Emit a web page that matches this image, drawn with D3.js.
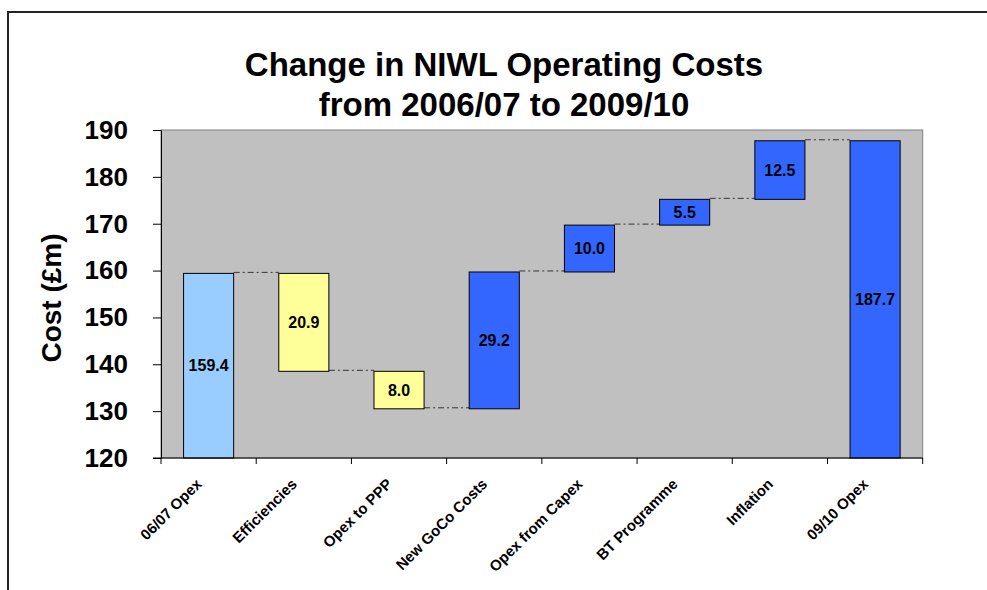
<!DOCTYPE html>
<html>
<head>
<meta charset="utf-8">
<script src="https://cdn.jsdelivr.net/npm/d3@7"></script>
<style>
  body { margin: 0; background: #fff; }
  text { font-family: Arial, "Liberation Sans", sans-serif; font-weight: bold; }
</style>
</head>
<body>
<div id="frame"></div>
<script>
// data
const categories = ["06/07 Opex", "Efficiencies", "Opex to PPP", "New GoCo Costs",
                    "Opex from Capex", "BT Programme", "Inflation", "09/10 Opex"];
const changes = [159.4, -20.9, -8.0, 29.2, 10.0, 5.5, 12.5, 187.7];
const kinds = ["total", "decrease", "decrease", "increase", "increase", "increase", "increase", "total"];
const yTicks = [120, 130, 140, 150, 160, 170, 180, 190];

const width = 987;
const height = 590;
const plotLeft = 161, plotRight = 922.7, plotTop = 130, plotBottom = 458;

let svg = d3.select("#frame")
        .append("svg")
        .attr("width", width)
        .attr("height", height);

// outer chart border (right and bottom fall outside the picture)
svg.append("rect")
        .attr("x", 8)
        .attr("y", 12)
        .attr("width", 1000)
        .attr("height", 620)
        .attr("fill", "none")
        .attr("stroke", "#222")
        .attr("stroke-width", 2);

// work out where each bar starts and ends
let running = 0;
let steps = changes.map((v, i) => {
    let lo, hi;
    if (kinds[i] == "total") {
        lo = 120; hi = v; running = v;
    } else {
        let next = running + v;
        lo = Math.min(running, next);
        hi = Math.max(running, next);
        running = next;
    }
    return {cat: categories[i], value: v, kind: kinds[i], lo: lo, hi: hi, level: running};
});

let x = d3.scaleBand()
        .domain(categories)
        .range([plotLeft, plotRight])
        .paddingInner(0.474)
        .paddingOuter(0.237);

let y = d3.scaleLinear()
        .domain([120, 190])
        .range([plotBottom, plotTop]);

let color = d3.scaleOrdinal()
        .domain(["total", "decrease", "increase"])
        .range(["#99CCFF", "#FFFF99", "#3366FF"]);

// plot area
svg.append("rect")
        .attr("x", plotLeft)
        .attr("y", plotTop)
        .attr("width", plotRight - plotLeft)
        .attr("height", plotBottom - plotTop)
        .attr("fill", "#C0C0C0")
        .attr("stroke", "#808080")
        .attr("stroke-width", 1);

// connector lines
svg.append("g")
    .selectAll("line")
    .data(steps.slice(0, -1))
    .enter()
    .append("line")
    .attr("x1", d => x(d.cat) + x.bandwidth())
    .attr("x2", (d, i) => x(categories[i + 1]))
    .attr("y1", d => y(d.level) - 1)
    .attr("y2", d => y(d.level) - 1)
    .style("stroke", "#333")
    .style("stroke-width", 1)
    .style("stroke-dasharray", "6,3,2,3");

// bars
svg.append("g")
    .selectAll("rect")
    .data(steps)
    .enter()
    .append("rect")
    .attr("x", d => x(d.cat))
    .attr("y", d => y(d.hi))
    .attr("width", x.bandwidth())
    .attr("height", d => y(d.lo) - y(d.hi))
    .attr("fill", (d, i) => i == steps.length - 1 ? "#3366FF" : color(d.kind))
    .attr("stroke", "#000")
    .attr("stroke-width", 1);

// bar labels
svg.append("g")
    .selectAll("text")
    .data(steps)
    .enter()
    .append("text")
    .attr("x", d => x(d.cat) + x.bandwidth() / 2)
    .attr("y", d => (y(d.lo) + y(d.hi)) / 2)
    .attr("dy", "0.35em")
    .attr("text-anchor", "middle")
    .style("font-size", "16px")
    .text(d => Math.abs(d.value).toFixed(1));

// axes
let yAxis = svg.append("g")
        .attr("transform", "translate(" + plotLeft + ",0)")
        .call(d3.axisLeft(y).tickValues(yTicks).tickSize(8).tickPadding(25));
yAxis.select(".domain").attr("stroke", "#000");
yAxis.selectAll("text").style("font-size", "26px").attr("fill", "#000");

let xAxis = svg.append("g")
        .attr("transform", "translate(0," + plotBottom + ")");
xAxis.append("line")
        .attr("x1", plotLeft - 8)
        .attr("x2", plotRight)
        .attr("stroke", "#000");
let bounds = categories.map(c => x(c) - x.step() * x.paddingInner() / 2);
bounds.push(plotRight);
xAxis.selectAll(".tick")
    .data(bounds)
    .enter()
    .append("line")
    .attr("x1", d => d)
    .attr("x2", d => d)
    .attr("y1", 0)
    .attr("y2", 6)
    .attr("stroke", "#000");

svg.append("g")
    .selectAll("text")
    .data(categories)
    .enter()
    .append("text")
    .attr("transform", d => "translate(" + (x(d) + x.bandwidth() / 2 - 6) + "," + 485 + ") rotate(-45)")
    .attr("text-anchor", "end")
    .style("font-size", "15px")
    .text(d => d);

// titles
svg.append("text")
        .attr("x", 504)
        .attr("y", 76)
        .attr("text-anchor", "middle")
        .style("font-size", "33px")
        .text("Change in NIWL Operating Costs");

svg.append("text")
        .attr("x", 504)
        .attr("y", 116)
        .attr("text-anchor", "middle")
        .style("font-size", "33px")
        .text("from 2006/07 to 2009/10");

svg.append("text")
        .attr("transform", "rotate(-90)")
        .attr("x", -298)
        .attr("y", 61)
        .attr("text-anchor", "middle")
        .style("font-size", "28px")
        .text("Cost (£m)");
</script>
</body>
</html>
